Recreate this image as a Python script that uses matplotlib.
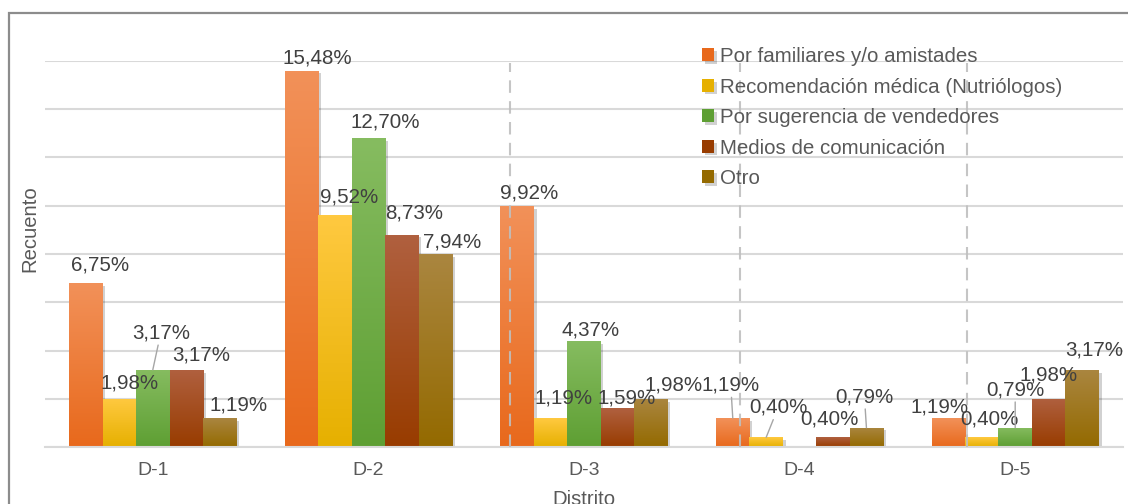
import numpy as np
import matplotlib
matplotlib.use("Agg")
import matplotlib.pyplot as plt
from matplotlib.patches import Rectangle
import matplotlib.patheffects as pe

plt.rcParams["font.family"] = ["Liberation Sans", "DejaVu Sans"]

# Data: counts per district (labels show share of total respondents)
districts = ["D-1", "D-2", "D-3", "D-4", "D-5"]
series = ["Por familiares y/o amistades",
          "Recomendación médica (Nutriólogos)",
          "Por sugerencia de vendedores",
          "Medios de comunicación",
          "Otro"]
familiares = [17, 39, 25, 3, 3]
medica = [5, 24, 3, 1, 1]
vendedores = [8, 32, 11, 0, 2]
medios = [8, 22, 4, 1, 5]
otro = [3, 20, 5, 2, 8]
TOTAL = 252

values = [familiares, medica, vendedores, medios, otro]

# gradient colours (top, bottom)
grad = [("#F29159", "#E8691C"),
        ("#FFC940", "#E6B000"),
        ("#86BC60", "#5E9F33"),
        ("#B0603F", "#983C00"),
        ("#AA8640", "#946A00")]

# label offsets in pixels from bar top-centre (dx, dy, leader), one row per series
offsets = [
    [(14, 18, 0), (16, 13, 0), (12, 13, 0), (-2, 33, 1), (-9, 11, 0)],
    [(10, 16, 0), (14, 18, 0), (13, 20, 0), (12, 30, 1), (8, 18, 0)],
    [(8, 37, 1), (17, 16, 0), (7, 11, 0), (0, 0, 0), (0, 38, 1)],
    [(15, 15, 0), (12, 22, 0), (9, 10, 0), (-4, 18, 0), (0, 24, 0)],
    [(19, 13, 0), (17, 12, 0), (23, 14, 0), (-2, 31, 1), (12, 20, 0)],
]

fig = plt.figure(figsize=(11.28, 5.04), dpi=100)
ax = fig.add_axes([45 / 1128, 1 - 447 / 504, (1123 - 45) / 1128, (447 - 61) / 504])

x = np.arange(len(districts))
w = 0.155
txt_color = "#404040"

for i, (name, vals) in enumerate(zip(series, values)):
    pos = x + (i - 2) * w
    bars = ax.bar(pos, vals, w, color=grad[i][1], label=name, zorder=2,
                  path_effects=[pe.SimplePatchShadow(offset=(2, -2), shadow_rgbFace="#000000", alpha=0.18),
                                pe.Normal()])
    top = np.array(matplotlib.colors.to_rgb(grad[i][0]))
    bot = np.array(matplotlib.colors.to_rgb(grad[i][1]))
    t = np.linspace(0, 1, 64)[:, None]
    img = (top * (1 - t) + bot * t)[:, None, :]
    for b, v in zip(bars, vals):
        if v == 0:
            continue
        im = ax.imshow(img, extent=[b.get_x(), b.get_x() + w, 0, v], aspect="auto",
                       origin="upper", zorder=2.5, interpolation="bilinear")
        im.set_clip_path(b)
    for j, (p, v) in enumerate(zip(pos, vals)):
        if v == 0:
            continue
        dx, dy, lead = offsets[i][j]
        lab = f"{v / TOTAL * 100:.2f}%".replace(".", ",")
        ax.annotate(lab, xy=(p, v), xytext=(dx, dy), textcoords="offset pixels",
                    ha="center", va="center", fontsize=14.8, color=txt_color, zorder=5,
                    arrowprops=dict(arrowstyle="-", color="#A6A6A6", lw=1,
                                    shrinkA=0, shrinkB=0) if lead else None)

ax.set_xlim(-0.5, 4.5)
ax.set_ylim(0, 40)
ax.set_yticks(np.arange(0, 41, 5))
ax.set_yticklabels([])
ax.tick_params(axis="y", length=0)
ax.tick_params(axis="x", length=0, pad=11, labelsize=14, labelcolor="#595959")
ax.set_xticks(x)
ax.set_xticklabels(districts)
ax.grid(axis="y", color="#D9D9D9", lw=1.5, zorder=0)
ax.set_axisbelow(True)
for s in ["left", "right", "top"]:
    ax.spines[s].set_visible(False)
ax.spines["bottom"].set_color("#D9D9D9")
ax.spines["bottom"].set_linewidth(1.5)

# dashed vertical guide lines
for xv in [1.657, 2.724, 3.776]:
    ax.axvline(xv, ymin=0, ymax=0.995, color="#BFBFBF", ls=(0, (6, 4)), lw=1.5, zorder=4, alpha=0.9)

leg = ax.legend(loc="upper left", bbox_to_anchor=(702 / 1128, 1 - 47 / 504),
                bbox_transform=fig.transFigure, frameon=False, fontsize=14.8,
                handlelength=0.58, handleheight=0.58, handletextpad=0.3,
                labelspacing=0.56, borderpad=0, borderaxespad=0)
for t in leg.get_texts():
    t.set_color("#595959")

fig.text(30 / 1128, 1 - 229 / 504, "Recuento", rotation=90, ha="center", va="center",
         fontsize=14.6, color="#595959")
fig.text(584 / 1128, -1 / 504, "Distrito", ha="center", va="baseline",
         fontsize=14.6, color="#595959")

fig.patches.append(Rectangle((9 / 1128, -0.1), 1.2, 0.1 + 1 - 13 / 504, transform=fig.transFigure,
                             fill=False, edgecolor="#8C8C8C", lw=1.6))

fig.savefig("out.png", dpi=100)
